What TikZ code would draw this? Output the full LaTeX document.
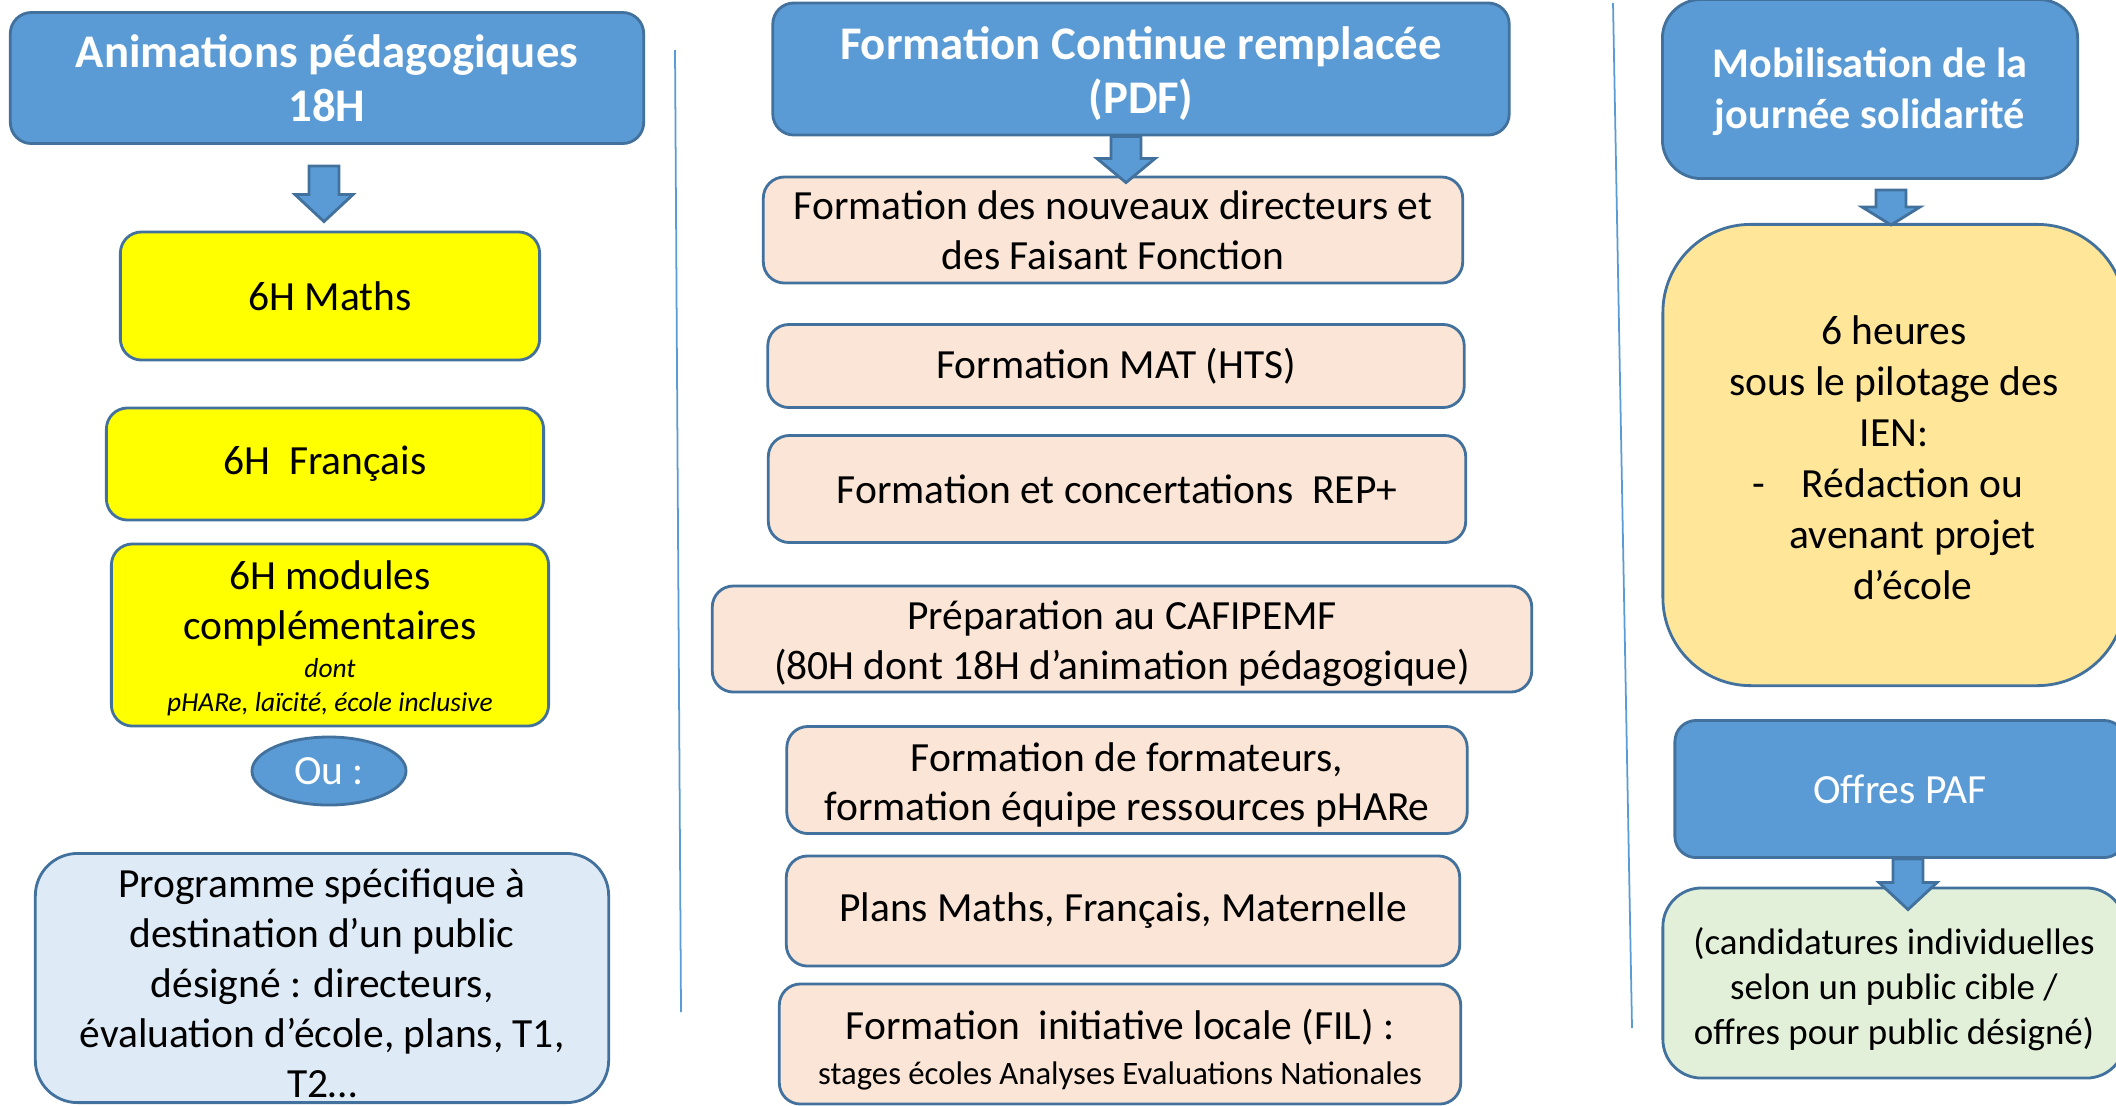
\documentclass[tikz,border=0pt]{standalone}
\usepackage{fontspec}
\setmainfont{Carlito}
\usetikzlibrary{positioning,calc,shapes.geometric}

\definecolor{boxblue}{HTML}{5B9BD5}
\definecolor{edgeblue}{HTML}{41719C}
\definecolor{boxyellow}{HTML}{FFFF00}
\definecolor{boxpeach}{HTML}{FBE5D6}
\definecolor{boxsky}{HTML}{DEEBF7}
\definecolor{boxgreen}{HTML}{E2F0D9}
\definecolor{boxgold}{HTML}{FFE699}

\newcommand{\bodyfont}{\fontsize{11.8}{14.2}\selectfont}
\newcommand{\hdrfont}{\bfseries\fontsize{13.3}{15.3}\selectfont}
\newcommand{\smallit}{\fontsize{7.8}{9.6}\selectfont\itshape}
% block arrow: start, tip, head length
\newcommand{\blkarrow}[3]{%
  \filldraw[blkfill] ($(#1)+(-15,0)$) -- ($(#1)+(15,0)$) -- ($(#2)+(15,-#3)$) -- ($(#2)+(29,-#3)$)
    -- (#2) -- ($(#2)+(-29,-#3)$) -- ($(#2)+(-15,-#3)$) -- cycle;}

\begin{document}
\begin{tikzpicture}[x=0.01cm,y=-0.01cm]
    \tikzset{
      titlebox/.style={draw=edgeblue, fill=boxblue, line width=0.8pt, rounded corners=6pt,
        text=white, font=\hdrfont, align=center, inner sep=0pt},
      itembox/.style={draw=edgeblue, line width=0.8pt, rounded corners=6pt,
        font=\bodyfont, align=center, inner sep=0pt},
      sepline/.style={boxblue, line width=0.5pt},
      blkfill/.style={draw=edgeblue, fill=boxblue, line width=0.8pt, line join=miter}
    }
    \useasboundingbox (0,0) rectangle (2116,1105);

    % left column
    \node[titlebox, minimum width=6.33cm, minimum height=1.31cm] (anim) at (327,78) {Animations pédagogiques\\18H};
    \node[itembox, fill=boxyellow, minimum width=4.19cm, minimum height=1.28cm] (maths) at (330,296) {6H Maths};
    \node[itembox, fill=boxyellow, minimum width=4.37cm, minimum height=1.12cm] (francais) at (325,464) {6H\ \ Français};
    \node[itembox, fill=boxyellow, minimum width=4.37cm, minimum height=1.82cm] (modules) at (330,635)
      {\rule{0pt}{10pt}6H modules\\complémentaires\\[-3.3pt]{\smallit dont}\\[-4.6pt]{\smallit pHARe, laïcité, école inclusive}};
    \node[ellipse, draw=edgeblue, fill=boxblue, line width=0.8pt, minimum width=1.54cm, minimum height=0.68cm,
      text=white, font=\bodyfont, inner sep=0pt] (ou) at (329,771) {Ou :};
    \node[itembox, fill=boxsky, rounded corners=12pt, minimum width=5.73cm, minimum height=2.49cm] (prog) at (322,978)
      {\rule{0pt}{11pt}Programme spécifique à\\destination d’un public\\désigné : directeurs,\\évaluation d’école, plans, T1,\\T2…};

    % middle column
    \node[titlebox, minimum width=7.36cm, minimum height=1.32cm] (cfr) at (1141,69) {\rule{0pt}{12pt}Formation Continue remplacée\\(PDF)};
    \node[itembox, fill=boxpeach, minimum width=6.99cm, minimum height=1.06cm] (dir) at (1113,230)
      {Formation des nouveaux directeurs et\\des Faisant Fonction};
    \node[itembox, fill=boxpeach, minimum width=6.96cm, minimum height=0.83cm] (mat) at (1116,366) {Formation MAT (HTS)};
    \node[itembox, fill=boxpeach, minimum width=6.97cm, minimum height=1.07cm] (rep) at (1117,489) {Formation et concertations\ \ REP+};
    \node[itembox, fill=boxpeach, minimum width=8.19cm, minimum height=1.06cm] (cafi) at (1122,639)
      {\rule{0pt}{11pt}Préparation au CAFIPEMF\\(80H dont 18H d’animation pédagogique)};
    \node[itembox, fill=boxpeach, minimum width=6.80cm, minimum height=1.07cm] (formateurs) at (1127,780)
      {\rule{0pt}{11pt}Formation de formateurs,\\formation équipe ressources pHARe};
    \node[itembox, fill=boxpeach, minimum width=6.73cm, minimum height=1.10cm] (plans) at (1123,911) {Plans Maths, Français, Maternelle};
    \node[itembox, fill=boxpeach, minimum width=6.81cm, minimum height=1.20cm] (fil) at (1120,1044)
      {\rule{0pt}{12pt}Formation\ \ initiative locale (FIL) :\\[-1.5pt]{\fontsize{9.3}{11.2}\selectfont stages écoles Analyses Evaluations Nationales}};

    % right column
    \node[titlebox, font=\bfseries\fontsize{12}{14.5}\selectfont, rounded corners=11pt,
      minimum width=4.15cm, minimum height=1.79cm] (jour) at (1870,89)
      {\rule{0pt}{10pt}Mobilisation de la\\journée solidarité};
    \node[itembox, fill=boxgold, rounded corners=25pt, font=\fontsize{11.8}{14.5}\selectfont,
      minimum width=4.62cm, minimum height=4.61cm] (heures) at (1894,455)
      {\rule{0pt}{14pt}6 heures\\sous le pilotage des\\IEN:\\\begin{tabular}[t]{@{}l@{\hspace{7pt}}c@{}}-&Rédaction ou\\&avenant projet\\&d’école\end{tabular}};
    \node[titlebox, font=\bodyfont, minimum width=4.50cm, minimum height=1.37cm] (paf) at (1900,789) {Offres PAF};
    \node[itembox, fill=boxgreen, rounded corners=11pt, font=\fontsize{10.5}{12.8}\selectfont,
      minimum width=4.62cm, minimum height=1.90cm] (cand) at (1894,983)
      {\rule{0pt}{11pt}(candidatures individuelles\\selon un public cible /\\offres pour public désigné)};

    % arrows
    \coordinate (a1s) at ($(anim.south)+(-3,21)$);
    \coordinate (a1e) at ($(maths.north)+(-6,-9)$);
    \blkarrow{a1s}{a1e}{27}
    \coordinate (a2s) at ($(cfr.south)+(-15,0)$);
    \coordinate (a2e) at ($(dir.north)+(13,7)$);
    \blkarrow{a2s}{a2e}{24}
    \coordinate (a3s) at ($(jour.south)+(21,10)$);
    \coordinate (a3e) at ($(heures.north)+(-3,2)$);
    \blkarrow{a3s}{a3e}{18}
    \coordinate (a4s) at ($(paf.south)+(8,0)$);
    \coordinate (a4e) at ($(cand.north)+(14,23)$);
    \blkarrow{a4s}{a4e}{27}

    % separators
    \coordinate (s1a) at (675,50);
    \coordinate (s1b) at (681,1012);
    \draw[sepline] (s1a) -- (s1b);
    \coordinate (s2a) at (1613,3);
    \coordinate (s2b) at (1632,1028);
    \draw[sepline] (s2a) -- (s2b);
\end{tikzpicture}
\end{document}
